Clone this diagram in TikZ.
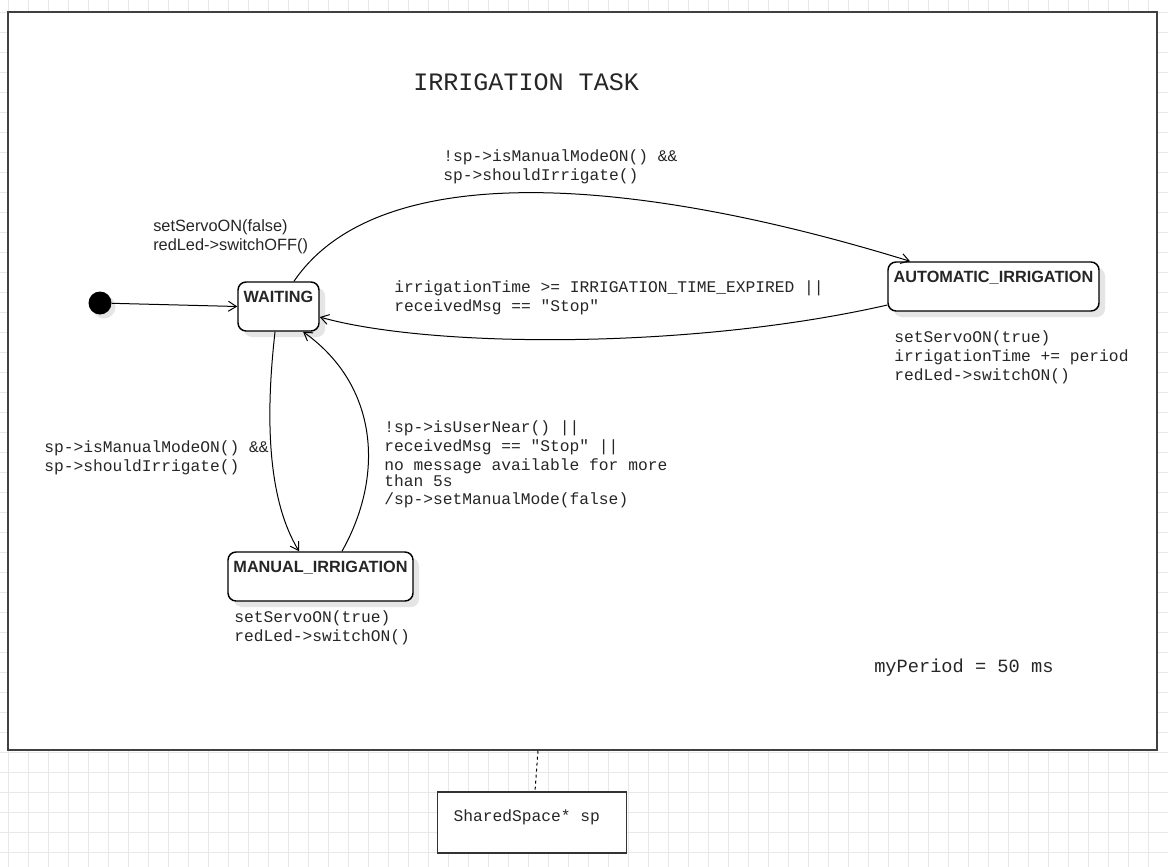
\documentclass[tikz,border=0pt]{standalone}
\usepackage{fontspec}
\setmainfont{Liberation Sans}
\setmonofont{Liberation Mono}
\usepackage{tikz}
\usetikzlibrary{arrows.meta,shadows}
\tikzset{
  statebox/.style={ draw, rounded corners=6pt, line width=1.1pt, fill=white, minimum height=36.75pt,
    drop shadow={shadow xshift=4.5pt, shadow yshift=-4.5pt, fill=black!10, opacity=1} }
}
\tikzset{
  statename/.style={ anchor=north, inner sep=0pt, yshift=-7.5pt, text=black!85, font=\bfseries\fontsize{12.2}{14}\selectfont }
}
\tikzset{
  codetext/.style={ anchor=west, align=left, inner sep=0pt, text=black!85, font=\ttfamily\fontsize{12.2}{14.25}\selectfont }
}
\tikzset{
  acttext/.style={ anchor=west, align=left, inner sep=0pt, text=black!85, font=\fontsize{12.25}{14.25}\selectfont }
}
\tikzset{
  trans/.style={ line width=0.75pt, -{Straight Barb[length=6pt,width=7.5pt]} }
}
\tikzset{
  gridline/.style={ line width=0.6pt, black!9 }
}

\begin{document}
\begin{tikzpicture}[x=0.75pt, y=-0.75pt]
      \useasboundingbox (0,0) rectangle (1168,867);
      \fill[white] (0,0) rectangle (1168,867);
      \foreach \gx in {8,28,...,1168} \draw[gridline] (\gx,0) -- (\gx,867);
      \foreach \gy in {12,32,...,867} \draw[gridline] (0,\gy) -- (1168,\gy);

      \node[draw=black!75, line width=1.1pt, fill=white, inner sep=0pt, minimum width=861.75pt, minimum height=553.5pt] (task) at (582.5,381) {};
      \node[codetext, font=\ttfamily\fontsize{18.8}{22}\selectfont] (title) at (413,82) {IRRIGATION TASK};

      \node[circle, fill=black, inner sep=0pt, minimum size=17.25pt,
        drop shadow={shadow xshift=3pt, shadow yshift=-3pt, fill=black!10, opacity=1}] (init) at (100,303) {};
      \node[statebox, minimum width=60.75pt, label={[statename]north:WAITING}] (wait) at (278.5,306.5) {};
      \node[statebox, minimum width=158.25pt, label={[statename]north:AUTOMATIC\_IRRIGATION}] (auto) at (993.5,286.5) {};
      \node[statebox, minimum width=138.75pt, label={[statename]north:MANUAL\_IRRIGATION}] (manual) at (320.5,576.5) {};

      \node[acttext] (waitact) at (153,237) {setServoON(false)\\redLed->switchOFF()};
      \node[codetext] (autoact) at (894,357) {setServoON(true)\\irrigationTime += period\\redLed->switchON()};
      \node[codetext] (manualact) at (234,627.5) {setServoON(true)\\redLed->switchON()};

      \draw[trans] (init) -- (wait.west);
      \draw[trans] ([xshift=11.6pt]wait.north) .. controls (380,155) and (640,178) .. ([xshift=-62.6pt]auto.north);
      \node[codetext] (toauto) at (443,167) {!sp->isManualModeON() \&\&\\sp->shouldIrrigate()};

      \draw[trans] ([yshift=-13.9pt]auto.west) .. controls (690,350) and (430,348) .. ([yshift=-7.9pt]wait.east);
      \node[codetext] (fromauto) at (394,297.5) {irrigationTime >= IRRIGATION\_TIME\_EXPIRED ||\\receivedMsg == "Stop"};

      \draw[trans] ([xshift=-2.6pt]wait.south) .. controls (265,420) and (268,500) .. ([xshift=-16.1pt]manual.north);
      \node[codetext] (tomanual) at (44,457.5) {sp->isManualModeON() \&\&\\sp->shouldIrrigate()};

      \draw[trans] ([xshift=16.1pt]manual.north) .. controls (385,475) and (378,385) .. ([xshift=18.4pt]wait.south);
      \node[codetext] (frommanual) at (384,464) {!sp->isUserNear() ||\\receivedMsg == "Stop" ||\\no message available for more\\[-2.25pt]than 5s\\[-0.75pt]/sp->setManualMode(false)};

      \node[codetext, font=\ttfamily\fontsize{14}{16}\selectfont] (period) at (874,668) {myPeriod = 50 ms};

      \node[draw=black!80, line width=1.1pt, fill=white, minimum width=141.75pt, minimum height=45.75pt,
        label={[codetext, xshift=12.4pt, yshift=3.6pt]west:SharedSpace* sp}] (shared) at (532,822.5) {};
      \draw[line width=0.75pt, dash pattern=on 2.25pt off 2.25pt] ([xshift=-33.4pt]task.south) -- ([xshift=2.25pt]shared.north);

    \end{tikzpicture}
\end{document}
